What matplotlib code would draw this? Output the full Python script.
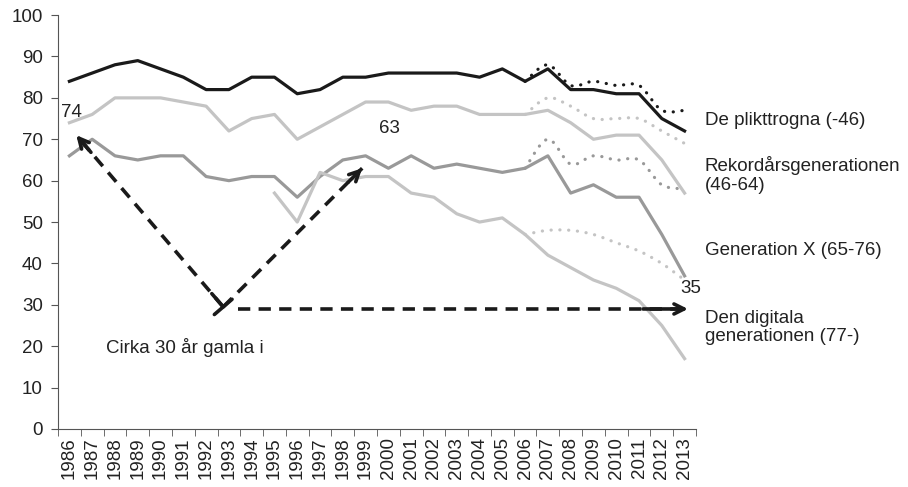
import matplotlib
matplotlib.use('Agg')
import matplotlib.pyplot as plt
from matplotlib.path import Path
from matplotlib.patches import PathPatch

plt.rcParams['font.family'] = ['Liberation Sans', 'DejaVu Sans']

years = list(range(1986, 2014))

# heldragna serier
plikttrogna = [84, 86, 88, 89, 87, 85, 82, 82, 85, 85, 81, 82, 85, 85,
               86, 86, 86, 86, 85, 87, 84, 87, 82, 82, 81, 81, 75, 72]
rekordars = [74, 76, 80, 80, 80, 79, 78, 72, 75, 76, 70, 73, 76, 79,
             79, 77, 78, 78, 76, 76, 76, 77, 74, 70, 71, 71, 65, 57]
gen_x = [66, 70, 66, 65, 66, 66, 61, 60, 61, 61, 56, 61, 65, 66,
         63, 66, 63, 64, 63, 62, 63, 66, 57, 59, 56, 56, 47, 37]
digital_years = list(range(1995, 2014))
digital = [57, 50, 62, 60, 61, 61, 57, 56, 52, 50, 51, 47, 42, 39, 36, 34, 31, 25, 17]

# prickade serier 2006-2013
dot_years = list(range(2006, 2014))
plikttrogna_dot = [84, 88, 83, 84, 83, 83, 77, 77]
rekordars_dot = [76, 80, 78, 75, 75, 75, 72, 69]
gen_x_dot = [63, 70, 64, 66, 65, 65, 59, 58]
digital_dot = [47, 48, 48, 47, 45, 43, 40, 36]

black = '#1a1a1a'
light = '#c4c4c4'
mid = '#999999'


def ix(yrs):
    return [y - 1986 for y in yrs]


def smooth(ax, xs, ys, color):
    pts = list(zip(xs, ys))
    n = len(pts)
    verts = [pts[0]]
    codes = [Path.MOVETO]
    for i in range(n - 1):
        p0 = pts[max(i - 1, 0)]
        p1 = pts[i]
        p2 = pts[i + 1]
        p3 = pts[min(i + 2, n - 1)]
        c1 = (p1[0] + (p2[0] - p0[0]) / 6, p1[1] + (p2[1] - p0[1]) / 6)
        c2 = (p2[0] - (p3[0] - p1[0]) / 6, p2[1] - (p3[1] - p1[1]) / 6)
        verts += [c1, c2, p2]
        codes += [Path.CURVE4] * 3
    patch = PathPatch(Path(verts, codes), fill=False, edgecolor=color, lw=2.3,
                      linestyle=(0, (0.05, 2.7)), capstyle='round', zorder=3)
    ax.add_patch(patch)


fig = plt.figure(figsize=(9.08, 4.87), dpi=100)
ax = fig.add_axes([0.0639, 0.1191, 0.7026, 0.8499])

smooth(ax, ix(dot_years), plikttrogna_dot, black)
smooth(ax, ix(dot_years), rekordars_dot, light)
smooth(ax, ix(dot_years), gen_x_dot, mid)
smooth(ax, ix(dot_years), digital_dot, light)

ax.plot(ix(years), plikttrogna, color=black, lw=2.3, zorder=4)
ax.plot(ix(years), rekordars, color=light, lw=2.3, zorder=4)
ax.plot(ix(years), gen_x, color=mid, lw=2.3, zorder=4)
ax.plot(ix(digital_years), digital, color=light, lw=2.3, zorder=4)

# streckade pilar
vx, vy = 6.75, 29.5
arrows = [((vx, vy), (0.3, 71)), ((vx, vy), (12.85, 63)), ((7.4, 29), (27.15, 29))]
for (x0, y0), (x1, y1) in arrows:
    ax.plot([x0, x1], [y0, y1], color=black, lw=2.6, dashes=(3.4, 2.3), zorder=5)
    ax.annotate('', xy=(x1, y1), xytext=(x0 + (x1 - x0) * 0.9, y0 + (y1 - y0) * 0.9),
                arrowprops=dict(arrowstyle='->', color=black, lw=2.6,
                                mutation_scale=18, shrinkA=0, shrinkB=0), zorder=6)
ax.annotate('', xy=(vx - 0.5, vy + 3.2), xytext=(vx, vy),
            arrowprops=dict(arrowstyle=']-, widthA=0.6, lengthA=0', color=black, lw=2.6,
                            mutation_scale=14, shrinkA=0, shrinkB=0), zorder=6)

fs = 13.5
ax.text(0.1, 76.5, '74', fontsize=fs, ha='center', va='center', color='#222222')
ax.text(14.06, 72.7, '63', fontsize=fs, ha='center', va='center', color='#222222')
ax.text(27.26, 34, '35', fontsize=fs, ha='center', va='center', color='#222222')
ax.text(5.07, 19.6, 'Cirka 30 år gamla i', fontsize=fs, ha='center', va='center', color='#222222')

labels = [(74.6, 'De plikttrogna (-46)'),
          (61.4, 'Rekordårsgenerationen\n(46-64)'),
          (43.2, 'Generation X (65-76)'),
          (24.5, 'Den digitala\ngenerationen (77-)')]
for y, t in labels:
    ax.text(27.88, y, t, fontsize=fs, ha='left', va='center', color='#222222',
            clip_on=False, linespacing=1.1)

ax.set_xlim(-0.5, 27.5)
ax.set_ylim(0, 100)
ax.set_yticks(range(0, 101, 10))
ax.set_xticks(range(len(years)))
ax.set_xticklabels([str(y) for y in years], rotation=90)
ax.set_xticks([i - 0.5 for i in range(len(years) + 1)], minor=True)
ax.tick_params(axis='x', which='major', length=0, labelsize=fs, pad=6, colors='#222222')
ax.tick_params(axis='x', which='minor', length=5, color='#555555')
ax.tick_params(axis='y', length=5, labelsize=fs, color='#555555', labelcolor='#222222', pad=6)
for s in ['top', 'right']:
    ax.spines[s].set_visible(False)
for s in ['left', 'bottom']:
    ax.spines[s].set_color('#555555')

fig.savefig('out.png', dpi=100)
